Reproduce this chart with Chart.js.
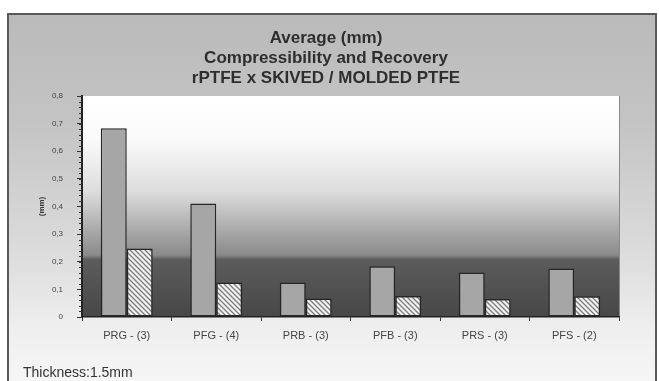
<!DOCTYPE html>
<html>
<head>
<meta charset="utf-8">
<script src="https://cdn.jsdelivr.net/npm/chart.js@4.4.0/dist/chart.umd.min.js"></script>
<style>
  html, body { margin: 0; padding: 0; background: #fff; }
</style>
</head>
<body>
<canvas id="grafico" width="659" height="381"></canvas>
<script>
const categorias = ["PRG - (3)", "PFG - (4)", "PRB - (3)", "PFB - (3)", "PRS - (3)", "PFS - (2)"];
const compressao = [0.683, 0.411, 0.125, 0.184, 0.161, 0.176];
const recuperacao = [0.248, 0.125, 0.067, 0.076, 0.065, 0.075];
const yTicks = ["0", "0,1", "0,2", "0,3", "0,4", "0,5", "0,6", "0,7", "0,8"];
const titulo = ["Average (mm)", "Compressibility and Recovery", "rPTFE x SKIVED / MOLDED PTFE"];
const eixoY = "(mm)";
const nota = "Thickness:1.5mm";

const canvas = document.getElementById("grafico");
const ctx = canvas.getContext("2d");

/* hachura da segunda serie */
function hachura() {
  const c = document.createElement("canvas");
  c.width = 5;
  c.height = 5;
  const x = c.getContext("2d");
  x.fillStyle = "#f2f2f2";
  x.fillRect(0, 0, 5, 5);
  x.strokeStyle = "#7c7c7c";
  x.lineWidth = 1.3;
  x.beginPath();
  x.moveTo(-1, -1); x.lineTo(6, 6);
  x.moveTo(-6, -1); x.lineTo(1, 6);
  x.moveTo(4, -1); x.lineTo(11, 6);
  x.stroke();
  return ctx.createPattern(c, "repeat");
}

/* fundo, titulo e nota */
const fundo = {
  id: "fundo",
  beforeDraw(chart) {
    const c = chart.ctx;
    const a = chart.chartArea;
    c.save();
    c.fillStyle = "#ffffff";
    c.fillRect(0, 0, chart.width, chart.height);

    let g = c.createLinearGradient(0, 14, 0, 381);
    g.addColorStop(0, "#bababa");
    g.addColorStop(0.3, "#c4c4c4");
    g.addColorStop(0.65, "#dcdcdc");
    g.addColorStop(0.85, "#eeeeee");
    g.addColorStop(1, "#f6f6f6");
    c.fillStyle = g;
    c.fillRect(8, 14, 648, 370);
    c.strokeStyle = "#5a5a5a";
    c.lineWidth = 2;
    c.strokeRect(8, 14, 648, 380);

    g = c.createLinearGradient(0, a.top, 0, a.bottom);
    g.addColorStop(0, "#ffffff");
    g.addColorStop(0.2, "#fafafa");
    g.addColorStop(0.43, "#dddddd");
    g.addColorStop(0.61, "#a9a9a9");
    g.addColorStop(0.72, "#8a8a8a");
    g.addColorStop(0.74, "#5c5c5c");
    g.addColorStop(1, "#474747");
    c.fillStyle = g;
    c.fillRect(a.left, a.top, a.right - a.left, a.bottom - a.top);
    c.strokeStyle = "#8a8a8a";
    c.lineWidth = 1;
    c.beginPath();
    c.moveTo(a.right + 0.5, a.top);
    c.lineTo(a.right + 0.5, a.bottom);
    c.stroke();

    c.fillStyle = "#2e2e2e";
    c.font = "bold 17px 'Liberation Sans', Arial, sans-serif";
    c.textAlign = "center";
    c.textBaseline = "middle";
    titulo.forEach((t, i) => c.fillText(t, 326, 38 + i * 20));

    c.fillStyle = "#333";
    c.font = "14px 'Liberation Sans', Arial, sans-serif";
    c.textAlign = "left";
    c.fillText(nota, 23, 373);
    c.restore();
  },
  afterDraw(chart) {
    /* tracinhos menores do eixo y */
    const c = chart.ctx;
    const y = chart.scales.y;
    c.save();
    c.strokeStyle = "#333";
    c.lineWidth = 1;
    c.beginPath();
    for (let v = 0; v <= 0.8001; v += 0.02) {
      const p = Math.round(y.getPixelForValue(v)) + 0.5;
      c.moveTo(y.right - 3, p);
      c.lineTo(y.right, p);
    }
    c.stroke();
    c.restore();
  }
};

const grafico = new Chart(ctx, {
  type: "bar",
  data: {
    labels: categorias,
    datasets: [
      {
        label: "Compressibility",
        data: compressao,
        backgroundColor: "#a6a6a6",
        borderColor: "#262626",
        borderWidth: 1.5,
        borderSkipped: false,
      },
      {
        label: "Recovery",
        data: recuperacao,
        backgroundColor: hachura(),
        borderColor: "#262626",
        borderWidth: 1.5,
        borderSkipped: false,
      },
    ],
  },
  options: {
    responsive: false,
    animation: false,
    devicePixelRatio: 1,
    categoryPercentage: 0.58,
    barPercentage: 1,
    layout: {
      padding: { left: 8, right: 40, top: 96, bottom: 0 },
    },
    plugins: {
      legend: { display: false },
      tooltip: { enabled: false },
    },
    scales: {
      x: {
        afterFit: (s) => { s.height = 64; },
        grid: { drawOnChartArea: false, tickLength: 4, color: "#333" },
        border: { color: "#222", width: 1.5 },
        ticks: {
          padding: 8,
          color: "#444",
          font: { family: "'Liberation Sans', Arial, sans-serif", size: 11 },
        },
      },
      y: {
        min: 0,
        max: 0.8,
        afterFit: (s) => { s.width = 74; },
        grid: { drawOnChartArea: false, tickLength: 5, color: "#333" },
        border: { color: "#222", width: 2 },
        ticks: {
          stepSize: 0.1,
          padding: 14,
          color: "#444",
          font: { family: "'Liberation Sans', Arial, sans-serif", size: 8 },
          callback: (v, i) => yTicks[i],
        },
        title: {
          display: true,
          text: eixoY,
          color: "#333",
          padding: { top: 29, bottom: 0 },
          font: { family: "'Liberation Sans', Arial, sans-serif", size: 8, weight: "bold" },
        },
      },
    },
  },
  plugins: [fundo],
});
</script>
</body>
</html>
